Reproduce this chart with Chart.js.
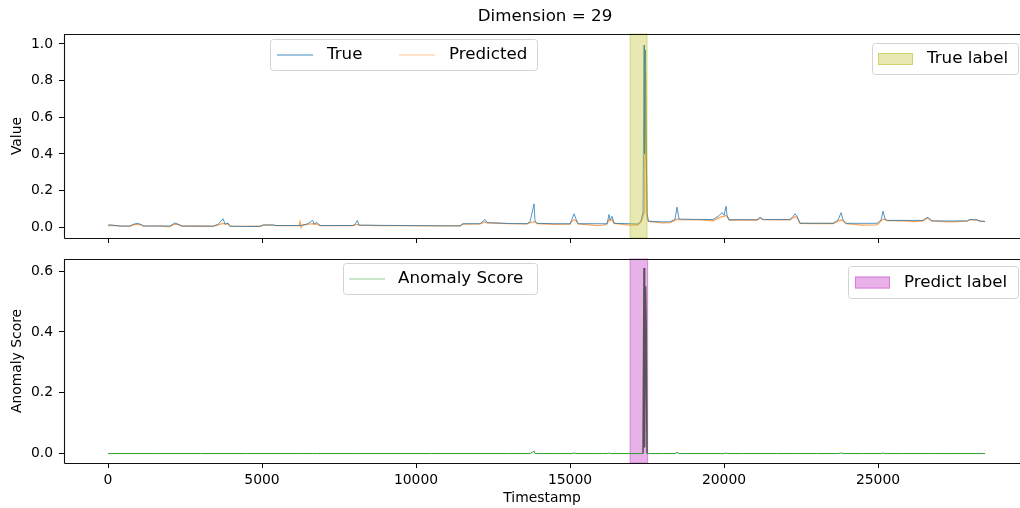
<!DOCTYPE html>
<html>
<head>
<meta charset="utf-8">
<script src="https://cdn.jsdelivr.net/npm/chart.js@4.4.0/dist/chart.umd.min.js"></script>
<style>
  body { margin: 0; background: #fff; }
  #wrap { position: relative; width: 1020px; height: 508px; }
  #wrap canvas { position: absolute; left: 0; }
</style>
</head>
<body>
<div id="wrap">
  <canvas id="valueChart" width="1020" height="250" style="top:0"></canvas>
  <canvas id="scoreChart" width="1020" height="258" style="top:250px"></canvas>
</div>
<script>
// values (dimension 29)
const timestamps = [
  0, 65, 390, 714, 812, 942, 1072, 1136, 1600, 2013,
  2111, 2175, 2273, 2403, 3000, 3409, 3572, 3735, 3799, 3896,
  3961, 4500, 4935, 5033, 5358, 5455, 6200, 6234, 6268, 6300,
  6462, 6645, 6689, 6777, 6884, 7400, 7955, 8020, 8095, 8150,
  8800, 9481, 10500, 11429, 11527, 12079, 12241, 12306, 13000, 13605,
  13702, 13832, 13864, 13929, 14500, 15001, 15066, 15131, 15196, 15261,
  15900, 16050, 16202, 16267, 16300, 16365, 16430, 16949, 17209, 17307,
  17371, 17404, 17420, 17452, 17469, 17501, 17543, 18000, 18248, 18410,
  18475, 18540, 19222, 19644, 19807, 19937, 20002, 20066, 20099, 20164,
  20600, 21073, 21170, 21268, 21700, 22144, 22242, 22307, 22372, 22469,
  23000, 23541, 23703, 23800, 23865, 23963, 24500, 24969, 25099, 25164,
  25229, 25294, 25800, 26200, 26463, 26560, 26625, 26723, 26788, 27300,
  27892, 27989, 28217, 28314, 28476
];
const trueValues = [
  0.011, 0.014, 0.007, 0.007, 0.016, 0.022, 0.016, 0.007, 0.008, 0.007,
  0.018, 0.024, 0.017, 0.007, 0.007, 0.006, 0.016, 0.047, 0.018, 0.024,
  0.006, 0.005, 0.005, 0.013, 0.013, 0.010, 0.010, 0.010, 0.010, 0.012,
  0.018, 0.038, 0.018, 0.027, 0.010, 0.010, 0.010, 0.016, 0.038, 0.012,
  0.011, 0.010, 0.009, 0.008, 0.020, 0.020, 0.043, 0.026, 0.021, 0.020,
  0.030, 0.128, 0.035, 0.022, 0.020, 0.020, 0.045, 0.074, 0.045, 0.020,
  0.020, 0.020, 0.020, 0.070, 0.040, 0.060, 0.022, 0.020, 0.018, 0.035,
  0.083, 0.993, 0.400, 0.966, 0.500, 0.080, 0.034, 0.030, 0.030, 0.045,
  0.110, 0.045, 0.043, 0.043, 0.060, 0.080, 0.065, 0.115, 0.065, 0.041,
  0.042, 0.041, 0.055, 0.043, 0.043, 0.043, 0.060, 0.074, 0.060, 0.022,
  0.022, 0.022, 0.040, 0.080, 0.040, 0.022, 0.022, 0.022, 0.040, 0.088,
  0.045, 0.038, 0.038, 0.038, 0.038, 0.050, 0.055, 0.038, 0.035, 0.035,
  0.035, 0.043, 0.041, 0.034, 0.032
];
const predictedValues = [
  0.010, 0.011, 0.008, 0.007, 0.014, 0.016, 0.015, 0.008, 0.007, 0.004,
  0.015, 0.018, 0.016, 0.007, 0.006, 0.007, 0.014, 0.022, 0.018, 0.019,
  0.007, 0.005, 0.006, 0.012, 0.012, 0.010, 0.010, 0.030, 0.000, 0.011,
  0.016, 0.020, 0.017, 0.019, 0.010, 0.009, 0.009, 0.013, 0.016, 0.012,
  0.010, 0.009, 0.008, 0.008, 0.018, 0.019, 0.030, 0.024, 0.020, 0.019,
  0.026, 0.030, 0.030, 0.021, 0.016, 0.018, 0.035, 0.040, 0.038, 0.019,
  0.010, 0.012, 0.018, 0.040, 0.036, 0.042, 0.021, 0.012, 0.014, 0.030,
  0.060, 0.080, 0.100, 0.850, 0.600, 0.060, 0.032, 0.024, 0.026, 0.038,
  0.045, 0.042, 0.041, 0.036, 0.050, 0.058, 0.060, 0.065, 0.060, 0.040,
  0.040, 0.040, 0.050, 0.042, 0.041, 0.041, 0.052, 0.058, 0.055, 0.022,
  0.021, 0.021, 0.034, 0.040, 0.036, 0.020, 0.012, 0.014, 0.034, 0.045,
  0.042, 0.037, 0.036, 0.032, 0.036, 0.046, 0.050, 0.037, 0.035, 0.030,
  0.034, 0.042, 0.040, 0.034, 0.032
];
const anomalyScores = [
  0, 0, 0, 0, 0, 0, 0, 0, 0, 0,
  0, 0, 0, 0, 0, 0, 0, 0, 0, 0,
  0, 0, 0, 0, 0, 0, 0, 0, 0, 0,
  0, 0, 0, 0, 0, 0, 0, 0, 0, 0,
  0, 0, 0, 0, 0, 0, 0, 0, 0, 0,
  0, 0.008, 0, 0, 0, 0, 0, 0.002, 0, 0,
  0, 0, 0, 0.002, 0, 0, 0, 0, 0, 0,
  0, 0.61, 0.02, 0.55, 0.45, 0, 0, 0, 0, 0,
  0.004, 0, 0, 0, 0, 0, 0, 0.002, 0, 0,
  0, 0, 0, 0, 0, 0, 0, 0, 0, 0,
  0, 0, 0, 0.002, 0, 0, 0, 0, 0, 0.002,
  0, 0, 0, 0, 0, 0, 0, 0, 0, 0,
  0, 0, 0, 0, 0
];
const timeTicks = [0, 5000, 10000, 15000, 20000, 25000];
const valueTicks = [0, 0.2, 0.4, 0.6, 0.8, 1.0];
const scoreTicks = [0, 0.2, 0.4, 0.6];
const trueLabelRange = [16950, 17500];
const predictLabelRange = [16950, 17520];

const FONT = "'DejaVu Sans', sans-serif";
Chart.defaults.font.family = FONT;
Chart.defaults.color = '#000';

function points(vals) {
  return timestamps.map((t, i) => ({ x: t, y: vals[i] }));
}

function drawLegend(ctx, b) {
  ctx.save();
  ctx.beginPath();
  ctx.roundRect(b.x + 0.5, b.y + 0.5, b.w, b.h, 3);
  ctx.fillStyle = 'rgba(255,255,255,0.8)';
  ctx.fill();
  ctx.strokeStyle = '#d4d4d4';
  ctx.lineWidth = 1;
  ctx.stroke();
  const cy = b.y + b.h / 2 + 0.5;
  ctx.font = '16.7px ' + FONT;
  ctx.textBaseline = 'middle';
  b.items.forEach(it => {
    if (it.patch) {
      ctx.fillStyle = it.patch;
      ctx.fillRect(it.lx, cy - 6, 35, 12);
      ctx.strokeStyle = it.edge;
      ctx.strokeRect(it.lx + 0.5, cy - 5.5, 34, 11);
    } else {
      ctx.beginPath();
      ctx.moveTo(it.lx, cy);
      ctx.lineTo(it.lx + 36, cy);
      ctx.strokeStyle = it.line;
      ctx.lineWidth = 1;
      ctx.stroke();
    }
    ctx.fillStyle = '#000';
    ctx.fillText(it.text, it.tx, cy);
  });
  ctx.restore();
}

function drawSpan(chart, opts) {
  const { ctx, chartArea: a, scales: { x } } = chart;
  const x0 = x.getPixelForValue(opts.span[0]);
  const x1 = x.getPixelForValue(opts.span[1]);
  ctx.save();
  ctx.fillStyle = opts.spanFill;
  ctx.fillRect(x0, a.top, x1 - x0, a.bottom - a.top);
  ctx.strokeStyle = opts.spanEdge;
  ctx.lineWidth = 1;
  ctx.strokeRect(x0, a.top, x1 - x0, a.bottom - a.top);
  ctx.restore();
}

const panelPlugin = {
  id: 'panel',
  beforeDatasetsDraw(chart, args, opts) {
    if (opts.spanUnder) drawSpan(chart, opts);
  },
  afterDatasetsDraw(chart, args, opts) {
    if (!opts.spanUnder) drawSpan(chart, opts);
  },
  afterDraw(chart, args, opts) {
    const { ctx, chartArea: a } = chart;
    ctx.save();
    ctx.strokeStyle = '#111';
    ctx.lineWidth = 1.1;
    ctx.beginPath();
    ctx.moveTo(a.left + 0.5, a.bottom + 0.5);
    ctx.lineTo(a.left + 0.5, a.top + 0.5);
    ctx.lineTo(a.right, a.top + 0.5);
    ctx.moveTo(a.left + 0.5, a.bottom + 0.5);
    ctx.lineTo(a.right, a.bottom + 0.5);
    ctx.stroke();
    if (opts.title) {
      ctx.font = '16.7px ' + FONT;
      ctx.fillStyle = '#000';
      ctx.textAlign = 'center';
      ctx.textBaseline = 'middle';
      ctx.fillText(opts.title, 545, 17);
    }
    ctx.restore();
    opts.legends.forEach(b => drawLegend(ctx, b));
  }
};

function xScale(height, showLabels, title) {
  return {
    type: 'linear',
    min: -1429,
    max: 29610,
    afterBuildTicks: s => { s.ticks = timeTicks.map(v => ({ value: v })); },
    afterFit: s => {
      s.height = height;
      s.paddingLeft = 0; s.paddingRight = 0; s.paddingTop = 0; s.paddingBottom = 0;
    },
    grid: { drawOnChartArea: false, drawTicks: true, tickLength: 5, color: '#000' },
    border: { display: false },
    ticks: {
      color: showLabels ? '#000' : 'transparent',
      font: { size: 13.9 },
      padding: 4,
      maxRotation: 0,
      autoSkip: false,
      callback: v => String(v)
    },
    title: {
      display: !!title,
      text: title || '',
      font: { size: 13.9 },
      padding: { top: 0, bottom: 1 }
    }
  };
}

function yScale(min, max, tickVals, title) {
  return {
    min: min,
    max: max,
    afterBuildTicks: s => { s.ticks = tickVals.map(v => ({ value: v })); },
    afterFit: s => {
      s.width = 64;
      s.paddingLeft = 0; s.paddingRight = 0; s.paddingTop = 0; s.paddingBottom = 0;
    },
    grid: { drawOnChartArea: false, drawTicks: true, tickLength: 5, color: '#000' },
    border: { display: false },
    ticks: { font: { size: 13.9 }, padding: 6, callback: v => v.toFixed(1) },
    title: {
      display: true,
      text: title,
      font: { size: 13.9 },
      padding: { top: 9, bottom: 0 }
    }
  };
}

const common = {
  responsive: false,
  devicePixelRatio: 1,
  animation: false,
  events: [],
  elements: { point: { radius: 0 }, line: { tension: 0 } }
};

new Chart(document.getElementById('valueChart'), {
  type: 'line',
  data: {
    datasets: [{
      label: 'True',
      data: points(trueValues),
      borderColor: 'rgba(31,119,180,0.85)',
      borderWidth: 0.9
    }, {
      label: 'Predicted',
      data: points(predictedValues),
      borderColor: 'rgba(255,127,14,0.7)',
      borderWidth: 1.3
    }]
  },
  options: Object.assign({}, common, {
    layout: { padding: { top: 34, left: 0, right: 0, bottom: 0 } },
    scales: {
      x: xScale(12, false, ''),
      y: yScale(-0.058, 1.054, valueTicks, 'Value')
    },
    plugins: {
      legend: { display: false },
      tooltip: { enabled: false },
      panel: {
        title: 'Dimension = 29',
        span: trueLabelRange,
        spanFill: 'rgba(188,189,34,0.35)',
        spanEdge: 'rgba(188,189,34,0.5)',
        legends: [{
          x: 270, y: 39, w: 267, h: 31,
          items: [
            { line: 'rgba(31,119,180,0.85)', lx: 277, text: 'True', tx: 327 },
            { line: 'rgba(255,127,14,0.45)', lx: 399, text: 'Predicted', tx: 449 }
          ]
        }, {
          x: 872, y: 43, w: 146, h: 31,
          items: [
            { patch: 'rgba(188,189,34,0.35)', edge: 'rgba(188,189,34,0.5)', lx: 878, text: 'True label', tx: 927 }
          ]
        }]
      }
    }
  }),
  plugins: [panelPlugin]
});

new Chart(document.getElementById('scoreChart'), {
  type: 'line',
  data: {
    datasets: [{
      label: 'Anomaly Score',
      data: points(anomalyScores),
      borderColor: 'rgba(44,160,44,1)',
      borderWidth: 1,
      segment: {
        borderColor: c => (c.p0.parsed.y > 0.05 || c.p1.parsed.y > 0.05) ? '#555555' : undefined,
        borderWidth: c => (c.p0.parsed.y > 0.05 || c.p1.parsed.y > 0.05) ? 1.6 : undefined
      }
    }]
  },
  options: Object.assign({}, common, {
    layout: { padding: { top: 9, left: 0, right: 0, bottom: 0 } },
    scales: {
      x: xScale(45, true, 'Timestamp'),
      y: yScale(-0.031, 0.64, scoreTicks, 'Anomaly Score')
    },
    plugins: {
      legend: { display: false },
      tooltip: { enabled: false },
      panel: {
        span: predictLabelRange,
        spanUnder: true,
        spanFill: 'rgba(210,100,210,0.5)',
        spanEdge: 'rgba(210,100,210,0.7)',
        legends: [{
          x: 343, y: 13, w: 194, h: 31,
          items: [
            { line: 'rgba(44,160,44,0.5)', lx: 349, text: 'Anomaly Score', tx: 398 }
          ]
        }, {
          x: 848, y: 16, w: 170, h: 32,
          items: [
            { patch: 'rgba(210,100,210,0.5)', edge: 'rgba(210,100,210,0.7)', lx: 855, text: 'Predict label', tx: 904 }
          ]
        }]
      }
    }
  }),
  plugins: [panelPlugin]
});
</script>
</body>
</html>
